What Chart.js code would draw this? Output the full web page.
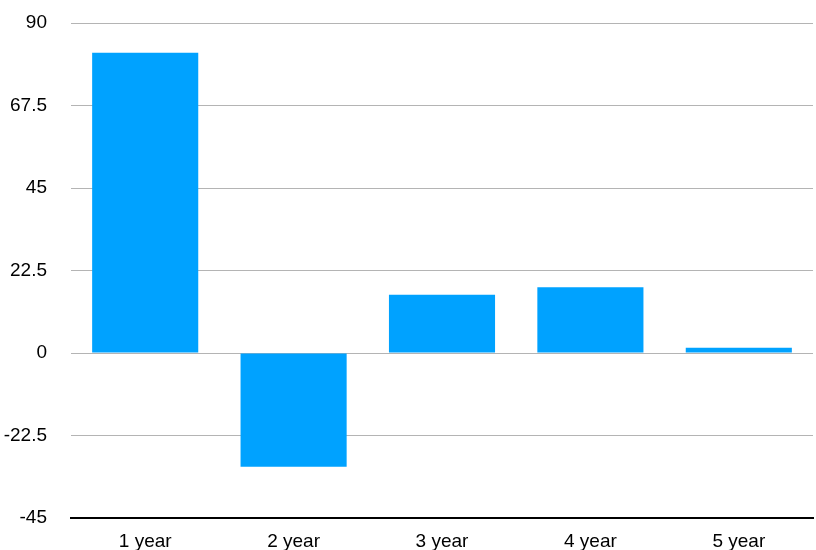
<!DOCTYPE html>
<html>
<head>
<meta charset="utf-8">
<script src="https://cdn.jsdelivr.net/npm/chart.js@4/dist/chart.umd.min.js"></script>
<style>
  html, body { margin: 0; padding: 0; background: #fff; }
  #wrap { width: 816px; height: 550px; position: relative; }
</style>
</head>
<body>
<div id="wrap"><canvas id="c"></canvas></div>
<script>
const categories = ["1 year", "2 year", "3 year", "4 year", "5 year"];
const values = [81.9, -31.0, 15.9, 17.9, 1.45];
const yTicks = [-45, -22.5, 0, 22.5, 45, 67.5, 90];

const FONT = "'Liberation Sans', Arial, Helvetica, sans-serif";

new Chart(document.getElementById('c'), {
  type: 'bar',
  data: {
    labels: categories,
    datasets: [{
      data: values,
      backgroundColor: '#00A2FF',
      borderWidth: 0,
      barPercentage: 0.715,
      categoryPercentage: 1.0
    }]
  },
  options: {
    responsive: true,
    maintainAspectRatio: false,
    animation: false,
    layout: { padding: { top: 23, right: 3, left: 0, bottom: 0 } },
    plugins: { legend: { display: false }, tooltip: { enabled: false } },
    scales: {
      x: {
        afterFit: (axis) => { axis.height = 32; axis.paddingLeft = 0; axis.paddingRight = 0; },
        grid: { display: false, drawTicks: false },
        border: { display: true, color: '#000', width: 2 },
        ticks: { color: '#000', font: { family: FONT, size: 19 }, padding: 12 }
      },
      y: {
        min: -45, max: 90,
        afterBuildTicks: (axis) => { axis.ticks = yTicks.map(v => ({ value: v })); },
        afterFit: (axis) => { axis.width = 71; axis.paddingTop = 0; axis.paddingBottom = 0; },
        grid: { color: '#b4b4b4', lineWidth: 1, drawTicks: false },
        border: { display: false },
        ticks: {
          color: '#000', font: { family: FONT, size: 19 }, padding: 24,
          callback: (v) => String(v)
        }
      }
    }
  }
});
</script>
</body>
</html>
